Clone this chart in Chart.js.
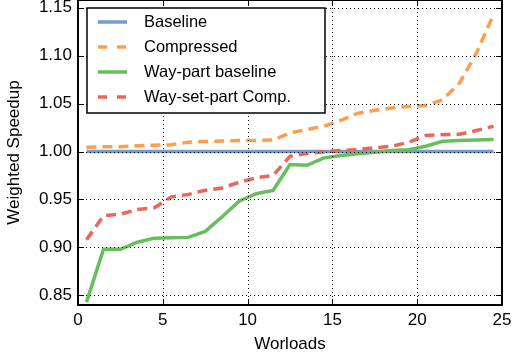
<!DOCTYPE html>
<html lang="en">
<head>
  <meta charset="UTF-8">
  <title>Weighted Speedup</title>
  <script src="https://cdn.jsdelivr.net/npm/chart.js"></script>
  <style>
    html, body { margin: 0; padding: 0; background: #fff; }
    #wrap { width: 513px; height: 360px; }
  </style>
</head>
<body>
<div id="wrap"><canvas id="chart"></canvas></div>

<script>
  // workloads are sorted by speedup, plotted at the middle of each unit
  const workloads = [0.5, 1.5, 2.5, 3.5, 4.5, 5.5, 6.5, 7.5, 8.5, 9.5, 10.5, 11.5, 12.5,
                     13.5, 14.5, 15.5, 16.5, 17.5, 18.5, 19.5, 20.5, 21.5, 22.5, 23.5, 24.5];

  const baseline   = [1.000, 1.000, 1.000, 1.000, 1.000, 1.000, 1.000, 1.000, 1.000, 1.000, 1.000, 1.000, 1.000,
                      1.000, 1.000, 1.000, 1.000, 1.000, 1.000, 1.000, 1.000, 1.000, 1.000, 1.000, 1.000];
  const compressed = [1.0045, 1.005, 1.005, 1.006, 1.0066, 1.007, 1.0097, 1.0104, 1.011, 1.0115, 1.0115, 1.012, 1.0194,
                      1.023, 1.0264, 1.0326, 1.040, 1.043, 1.0455, 1.047, 1.048, 1.054, 1.0715, 1.103, 1.143];
  const wayPart    = [0.843, 0.898, 0.898, 0.9055, 0.9097, 0.910, 0.9105, 0.9167, 0.932, 0.9483, 0.956, 0.9594, 0.9865,
                      0.9857, 0.9934, 0.9958, 0.9976, 0.9993, 1.001, 1.002, 1.0055, 1.0107, 1.0115, 1.012, 1.0125];
  const waySetComp = [0.908, 0.933, 0.9347, 0.9396, 0.9413, 0.9528, 0.9552, 0.9597, 0.962, 0.968, 0.9726, 0.975, 0.995,
                      0.998, 0.9997, 1.001, 1.002, 1.004, 1.0055, 1.0097, 1.0167, 1.0177, 1.018, 1.022, 1.0264];

  const seriesNames = ['Baseline', 'Compressed', 'Way-part baseline', 'Way-set-part Comp.'];
  const yTicks = [0.85, 0.90, 0.95, 1.00, 1.05, 1.10, 1.15];
  const xTicks = [0, 5, 10, 15, 20, 25];

  const colors = ['#729ece', '#ff9e4a', '#67bf5c', '#ed665d'];
  const dashed = [false, true, false, true];
  const FONT = '"Liberation Sans", Arial, sans-serif';

  function pts(vals) {
    return vals.map((v, i) => ({ x: workloads[i], y: v }));
  }

  const allSeries = [baseline, compressed, wayPart, waySetComp];
  const datasets = allSeries.map((vals, i) => ({
    label: seriesNames[i],
    data: pts(vals),
    borderColor: colors[i],
    backgroundColor: colors[i],
    borderWidth: 3.5,
    borderDash: dashed[i] ? [10, 6] : [],
    pointRadius: 0,
    tension: 0,
    fill: false,
    order: 4 - i
  }));

  // dotted grid on top of the lines (like the original), frame, inward ticks, boxed legend
  const framePlugin = {
    id: 'frame',
    afterDatasetsDraw(chart) {
      const ctx = chart.ctx;
      const a = chart.chartArea;
      const xs = chart.scales.x, ys = chart.scales.y;
      ctx.save();
      ctx.strokeStyle = '#000';
      ctx.lineWidth = 1;
      ctx.setLineDash([1, 3]);
      xTicks.forEach(t => {
        const px = Math.round(xs.getPixelForValue(t)) + 0.5;
        ctx.beginPath(); ctx.moveTo(px, a.bottom); ctx.lineTo(px, a.top); ctx.stroke();
      });
      yTicks.forEach(t => {
        const py = Math.round(ys.getPixelForValue(t)) + 0.5;
        ctx.beginPath(); ctx.moveTo(a.left, py); ctx.lineTo(a.right, py); ctx.stroke();
      });
      ctx.restore();
    },
    afterDraw(chart) {
      const ctx = chart.ctx;
      const a = chart.chartArea;
      const xs = chart.scales.x, ys = chart.scales.y;
      ctx.save();
      ctx.strokeStyle = '#000';
      ctx.lineWidth = 1;
      ctx.setLineDash([]);
      xTicks.forEach(t => {
        const px = Math.round(xs.getPixelForValue(t)) + 0.5;
        ctx.beginPath();
        ctx.moveTo(px, a.bottom); ctx.lineTo(px, a.bottom - 6);
        ctx.moveTo(px, a.top); ctx.lineTo(px, a.top + 6);
        ctx.stroke();
      });
      yTicks.forEach(t => {
        const py = Math.round(ys.getPixelForValue(t)) + 0.5;
        ctx.beginPath();
        ctx.moveTo(a.left, py); ctx.lineTo(a.left + 6, py);
        ctx.moveTo(a.right, py); ctx.lineTo(a.right - 6, py);
        ctx.stroke();
      });
      ctx.lineWidth = 2;
      ctx.strokeRect(a.left, a.top, a.right - a.left, a.bottom - a.top);

      // legend box
      const bx = a.left + 9, by = a.top + 8, bw = 238, bh = 105;
      ctx.fillStyle = '#fff';
      ctx.fillRect(bx, by, bw, bh);
      ctx.lineWidth = 1.5;
      ctx.strokeRect(bx, by, bw, bh);
      ctx.font = '16.5px ' + FONT;
      ctx.textBaseline = 'middle';
      seriesNames.forEach((name, i) => {
        const y = by + 14 + i * 25;
        ctx.strokeStyle = colors[i];
        ctx.lineWidth = 3.5;
        ctx.setLineDash(dashed[i] ? [9, 10] : []);
        ctx.beginPath();
        ctx.moveTo(bx + 11, y); ctx.lineTo(bx + 40, y);
        ctx.stroke();
        ctx.setLineDash([]);
        ctx.fillStyle = '#000';
        ctx.fillText(name, bx + 57, y);
      });
      ctx.restore();
    }
  };

  new Chart(document.getElementById('chart'), {
    type: 'line',
    data: { datasets },
    options: {
      responsive: true,
      maintainAspectRatio: false,
      animation: false,
      layout: { padding: { top: 0, right: 11, left: 0, bottom: 0 } },
      plugins: { legend: { display: false }, tooltip: { enabled: false } },
      scales: {
        x: {
          type: 'linear',
          min: 0, max: 25,
          afterBuildTicks: s => { s.ticks = xTicks.map(v => ({ value: v })); },
          afterFit: s => { s.height = 55; s.paddingLeft = 0; s.paddingRight = 0; },
          ticks: { color: '#000', padding: 5, font: { family: FONT, size: 17 }, maxRotation: 0 },
          grid: { display: false, drawTicks: false },
          border: { display: false },
          title: { display: true, text: 'Worloads', color: '#000', font: { family: FONT, size: 17 }, padding: { top: 0, bottom: 5 } }
        },
        y: {
          min: 0.84, max: 1.158,
          afterBuildTicks: s => { s.ticks = yTicks.map(v => ({ value: v })); },
          afterFit: s => { s.width = 78; s.paddingTop = 0; s.paddingBottom = 0; },
          ticks: { color: '#000', padding: 6, font: { family: FONT, size: 17 }, callback: v => v.toFixed(2) },
          grid: { display: false, drawTicks: false },
          border: { display: false },
          title: { display: true, text: 'Weighted Speedup', color: '#000', font: { family: FONT, size: 17 }, padding: { top: 4, bottom: 0 } }
        }
      }
    },
    plugins: [framePlugin]
  });
</script>
</body>
</html>
